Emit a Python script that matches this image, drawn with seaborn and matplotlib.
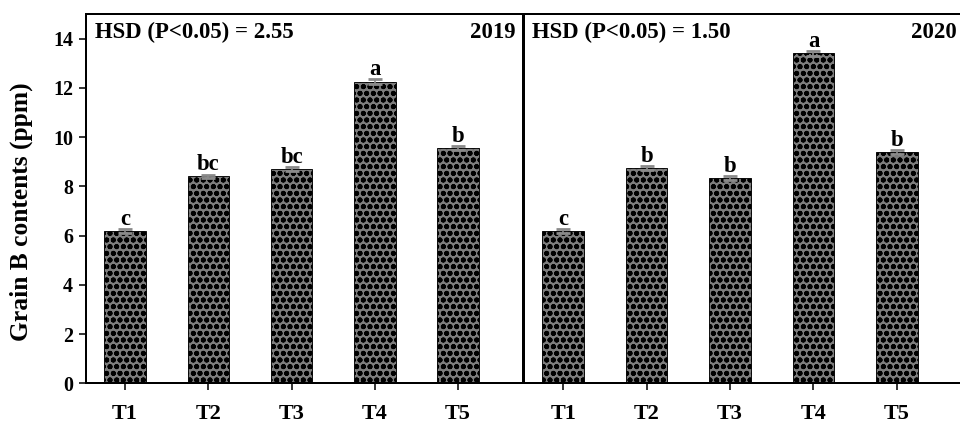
import matplotlib
matplotlib.use('Agg')
import matplotlib.pyplot as plt
import seaborn as sns

# grain B contents (ppm) per treatment, two seasons
treatments = ['T1', 'T2', 'T3', 'T4', 'T5']
grain_b_2019 = [6.2, 8.4, 8.7, 12.25, 9.55]
grain_b_2020 = [6.2, 8.75, 8.35, 13.4, 9.4]
se_2019 = [0.08, 0.08, 0.07, 0.1, 0.08]
se_2020 = [0.08, 0.08, 0.08, 0.1, 0.08]
letters_2019 = ['c', 'bc', 'bc', 'a', 'b']
letters_2020 = ['c', 'b', 'b', 'a', 'b']
years = ['2019', '2020']
hsd_values = ['2.55', '1.50']

sns.set_style('ticks')
plt.rcParams['font.family'] = ['Liberation Serif', 'DejaVu Serif']
plt.rcParams['font.weight'] = 'bold'
plt.rcParams['text.color'] = 'black'
plt.rcParams['axes.labelcolor'] = 'black'
plt.rcParams['xtick.color'] = 'black'
plt.rcParams['ytick.color'] = 'black'
plt.rcParams['hatch.linewidth'] = 2.1

# dpi 80 so the hatch cell (one inch) gives ~6.7 px dot spacing
fig = plt.figure(figsize=(12, 5.2875), dpi=80)
ax1 = fig.add_axes([86 / 960, 39.7 / 423, 437 / 960, 369.3 / 423])
ax2 = fig.add_axes([524 / 960, 39.7 / 423, 438 / 960, 369.3 / 423])

panels = [
    (ax1, grain_b_2019, se_2019, letters_2019, years[0], hsd_values[0]),
    (ax2, grain_b_2020, se_2020, letters_2020, years[1], hsd_values[1]),
]

for i, (ax, vals, err, letters, year, hsd) in enumerate(panels):
    sns.barplot(x=treatments, y=vals, ax=ax, color='#7d7d7d', saturation=1,
                width=0.5, edgecolor='black', linewidth=0.8, hatch='oo..',
                errorbar=None)
    ax.errorbar(range(len(treatments)), vals, yerr=err, fmt='none',
                ecolor='#8a8a8a', elinewidth=1.5, capsize=6.5, capthick=2.5,
                zorder=3)
    for x, (v, e, lab) in enumerate(zip(vals, err, letters)):
        ax.text(x, v + e + 0.17, lab, ha='center', va='baseline',
                fontsize=20.5, fontweight='bold')

    ax.set_ylim(0, 15)
    ax.set_xlim(-0.47, 4.78)
    ax.set_yticks(range(0, 15, 2))
    for side in ['top', 'right', 'left', 'bottom']:
        ax.spines[side].set_visible(True)
        ax.spines[side].set_linewidth(1.8)
        ax.spines[side].set_color('black')
    ax.tick_params(axis='x', direction='out', length=6.5, width=1.4,
                   pad=12.5, labelsize=20)
    ax.tick_params(axis='y', direction='out', length=6.5, width=1.4,
                   pad=5, labelsize=18)

    ax.text(0.02 if i == 0 else 0.018, 0.934, f'HSD (P<0.05) = {hsd}',
            transform=ax.transAxes, ha='left', va='baseline',
            fontsize=20.5, fontweight='bold')
    ax.text(0.982 if i == 0 else 0.989, 0.934, year, transform=ax.transAxes,
            ha='right', va='baseline', fontsize=20.5, fontweight='bold')
    ax.set_xlabel('')

ax1.set_ylabel('Grain B contents (ppm)', fontsize=23, fontweight='bold')
ax1.yaxis.set_label_coords(-0.121, 0.464)
ax2.set_ylabel('')
ax2.tick_params(axis='y', left=False, labelleft=False)

fig.savefig('out.png', dpi=80)
